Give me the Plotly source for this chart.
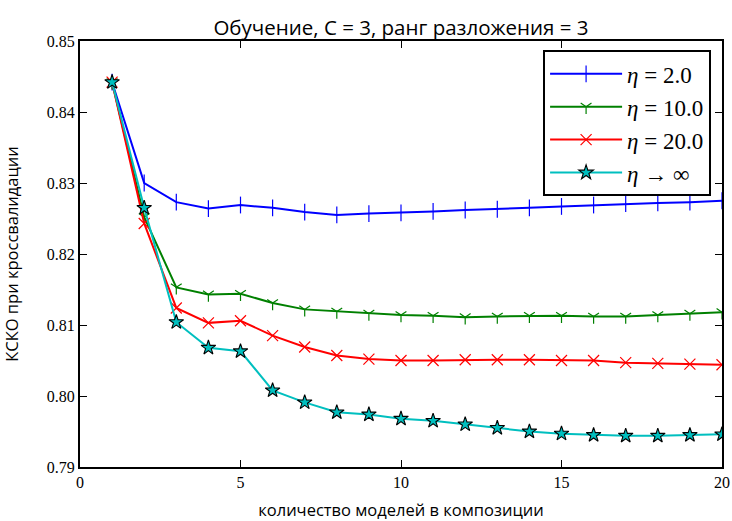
import plotly.graph_objects as go

x_models = list(range(1, 21))

eta_2 = [0.8442, 0.8300, 0.8273, 0.8264, 0.8269, 0.8265, 0.8259, 0.8255, 0.8257, 0.8258,
         0.8260, 0.8262, 0.8263, 0.8265, 0.8267, 0.8269, 0.8271, 0.8272, 0.8273, 0.8275]
eta_10 = [0.8442, 0.8252, 0.8153, 0.8143, 0.8144, 0.8131, 0.8122, 0.8119, 0.8116, 0.8114,
          0.8113, 0.8111, 0.8112, 0.8113, 0.8113, 0.8112, 0.8112, 0.8114, 0.8116, 0.8118]
eta_20 = [0.8442, 0.8243, 0.8124, 0.8103, 0.8106, 0.8085, 0.8069, 0.8057, 0.8052, 0.8050,
          0.8050, 0.8051, 0.8051, 0.8051, 0.8050, 0.8050, 0.8047, 0.8046, 0.8045, 0.8044]
eta_inf = [0.8442, 0.8265, 0.8104, 0.8068, 0.8063, 0.8008, 0.7991, 0.7977, 0.7974, 0.7968,
           0.7965, 0.7960, 0.7955, 0.7950, 0.7947, 0.7945, 0.7944, 0.7944, 0.7945, 0.7946]

series_names = ["<i>η</i> = 2.0", "<i>η</i> = 10.0", "<i>η</i> = 20.0", "<i>η</i> → ∞"]
x_ticks = [0, 5, 10, 15, 20]
y_ticks = [0.79, 0.80, 0.81, 0.82, 0.83, 0.84, 0.85]
y_tick_labels = ["0.79", "0.80", "0.81", "0.82", "0.83", "0.84", "0.85"]

fig = go.Figure()
fig.add_trace(go.Scatter(x=x_models, y=eta_2, name=series_names[0], mode="lines+markers",
                         line=dict(color="#0000FF", width=2),
                         marker=dict(symbol="line-ns", size=12, line=dict(color="#0000FF", width=1.2))))
fig.add_trace(go.Scatter(x=x_models, y=eta_10, name=series_names[1], mode="lines+markers",
                         line=dict(color="#008000", width=2),
                         marker=dict(symbol="y-down", size=9, line=dict(color="#008000", width=1.2))))
fig.add_trace(go.Scatter(x=x_models, y=eta_20, name=series_names[2], mode="lines+markers",
                         line=dict(color="#FF0000", width=2),
                         marker=dict(symbol="x-thin", size=11, line=dict(color="#FF0000", width=1.2))))
fig.add_trace(go.Scatter(x=x_models, y=eta_inf, name=series_names[3], mode="lines+markers",
                         line=dict(color="#00BFBF", width=2),
                         marker=dict(symbol="star", size=11, color="#00BFBF",
                                     line=dict(color="black", width=1.1))))

axis_common = dict(showgrid=False, zeroline=False, showline=True, linecolor="black", linewidth=2,
                   mirror="ticks", ticks="inside", ticklen=7, tickwidth=1.2, tickcolor="black",
                   automargin=False,
                   tickfont=dict(family="Liberation Serif, DejaVu Serif, serif", size=16, color="black"))

label_font = dict(family="Open Sans, Noto Sans, sans-serif", size=16.5, color="black")

fig.update_layout(
    width=732, height=521,
    margin=dict(l=80, r=10, t=41, b=54),
    paper_bgcolor="white", plot_bgcolor="white",
    title=dict(text="Обучение, C = 3, ранг разложения = 3", x=0.5, xref="paper",
               y=1, yref="paper", yanchor="bottom", pad=dict(b=6),
               font=dict(family="Open Sans, Noto Sans, sans-serif", size=20.5, color="black")),
    xaxis=dict(range=[0, 20], tickvals=x_ticks,
               title=dict(text="количество моделей в композиции", standoff=16, font=label_font),
               **axis_common),
    yaxis=dict(range=[0.79, 0.85], tickvals=y_ticks, ticktext=y_tick_labels,
               title=dict(text="КСКО при кроссвалидации", standoff=24, font=label_font),
               **axis_common),
    legend=dict(x=0.983, y=0.978, xanchor="right", yanchor="top",
                bordercolor="black", borderwidth=2, bgcolor="white",
                font=dict(family="Liberation Serif, DejaVu Serif, serif", size=23, color="black"),
                itemwidth=72, tracegroupgap=6),
    showlegend=True,
)

fig.write_html("out.html", post_script="document.body.style.margin='0';",
               config={"displayModeBar": False})
